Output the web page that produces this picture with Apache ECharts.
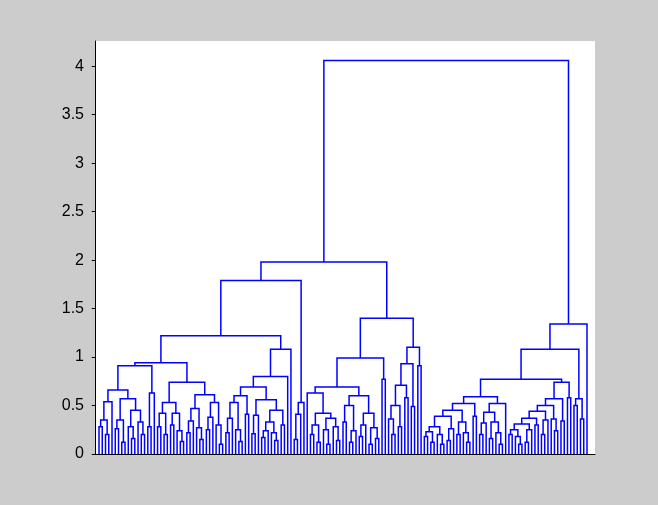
<!DOCTYPE html>
<html>
<head>
<meta charset="utf-8">
<script src="https://cdn.jsdelivr.net/npm/echarts@6/dist/echarts.min.js"></script>
<style>
html, body { margin: 0; padding: 0; background: #cccccc; }
#chart { width: 658px; height: 505px; }
</style>
</head>
<body>
<div id="chart"></div>
<script>
// 节点写法: [合并高度, 左子树, 右子树]，叶子写 0
const a1aLeft = [0.94,
  [0.91,
    [0.66,
      [0.54, [0.35, [0.28, 0, 0], [0.2, 0, 0]], 0],
      [0.57, [0.35, [0.26, 0, 0], [0.12, 0, 0]], [0.45, [0.28, 0, [0.16, 0, 0]], [0.33, 0, [0.2, 0, 0]]]]],
    [0.63, [0.28, 0, 0], 0]],
  [0.74,
    [0.53, [0.42, [0.28, 0, 0], [0.2, 0, 0]], [0.42, [0.3, 0, 0], [0.24, 0, [0.13, 0, 0]]]],
    [0.61, [0.47, [0.34, [0.22, 0, 0], 0], [0.27, 0, [0.15, 0, 0]]], [0.53, [0.38, [0.25, 0, 0], 0], [0.3, 0, [0.1, 0, 0]]]]]]
const a1aRight = [1.08,
  [0.8,
    [0.69,
      [0.6, [0.53, [0.37, [0.22, 0, 0], 0], [0.25, 0, [0.13, 0, 0]]], [0.41, 0, 0]],
      [0.56, [0.4, [0.21, 0, 0], 0], [0.45, [0.33, [0.24, [0.17, 0, 0], 0], [0.22, 0, [0.14, 0, 0]]], [0.3, 0, 0]]]],
    0],
  0]
const a1b = [0.53, [0.41, [0.15, 0, 0], 0], 0]
const a2Left = [0.99,
  [0.69,
    [0.63, 0, [0.42, [0.3, [0.2, 0, 0], [0.12, 0, 0]], [0.37, [0.25, 0, [0.1, 0, 0]], [0.28, 0, [0.14, 0, 0]]]]],
    [0.6, [0.5, [0.33, 0, 0], [0.24, [0.12, 0, 0], 0]], [0.42, [0.3, [0.18, 0, 0], 0], [0.27, [0.1, 0, 0], [0.16, 0, 0]]]]],
  [0.77, 0, 0]]
const a2Right = [1.1,
  [0.93, [0.71, [0.5, [0.36, 0, [0.2, 0, 0]], [0.28, 0, 0]], [0.58, 0, 0]], [0.49, 0, 0]],
  [0.91, 0, 0]]
const b1aLeft = [0.59,
  [0.52,
    [0.45, [0.39, [0.28, [0.23, [0.18, 0, 0], [0.12, 0, 0]], [0.2, 0, [0.1, 0, 0]]], [0.26, [0.14, 0, 0], 0]],
      [0.33, [0.2, 0, 0], [0.22, 0, [0.12, 0, 0]]]],
    [0.39, 0, 0]],
  [0.52, [0.43, [0.32, [0.2, 0, 0], 0], [0.33, [0.16, 0, 0], [0.22, 0, [0.1, 0, 0]]]], 0]]
const b1aRight = [0.74,
  [0.57,
    [0.5, [0.44, [0.37, [0.31, [0.25, [0.2, 0, 0], [0.18, 0, [0.1, 0, 0]]], [0.25, [0.12, 0, 0], 0]], [0.3, 0, 0]], [0.35, [0.2, 0, 0], 0]], [0.36, 0, [0.24, 0, 0]]],
    [0.34, 0, 0]],
  [0.58, 0, 0]]
const b1b = [0.57, [0.5, 0, 0], [0.36, 0, 0]]
// 上层合并高度
const upperHeights = { a1a: 1.22, a1: 1.79, a2: 1.40, a: 1.98, b1a: 0.77, b1: 1.08, b: 1.34, root: 4.06 }
const yTicks = [0, 0.5, 1, 1.5, 2, 2.5, 3, 3.5, 4]

const h = upperHeights
const tree = [h.root,
  [h.a, [h.a1, [h.a1a, a1aLeft, a1aRight], a1b], [h.a2, a2Left, a2Right]],
  [h.b, [h.b1, [h.b1a, b1aLeft, b1aRight], b1b], 0]]

// 叶子按顺序排在 1..n，节点 x 取两个子节点的平均
const segs = []
let leafNo = 0
function walk(node) {
  if (node === 0) {
    leafNo++
    return [leafNo, 0]
  }
  const l = walk(node[1])
  const r = walk(node[2])
  segs.push({ coords: [l, [l[0], node[0]], [r[0], node[0]], r] })
  return [(l[0] + r[0]) / 2, node[0]]
}
walk(tree)
const n = leafNo
const step = 488 / (n - 1)

const chart = echarts.init(document.getElementById('chart'))
chart.setOption({
  backgroundColor: '#cccccc',
  animation: false,
  grid: { left: 95, right: 63, top: 41, bottom: 51, show: true, backgroundColor: '#ffffff', borderWidth: 0 },
  xAxis: {
    type: 'value',
    min: 1 - 4 / step,
    max: n + 8 / step,
    axisLine: { show: true, lineStyle: { color: '#000', width: 1 } },
    axisTick: { show: false },
    axisLabel: { show: false },
    splitLine: { show: false }
  },
  yAxis: {
    type: 'value',
    min: 0,
    max: 4.26,
    axisLine: { show: true, lineStyle: { color: '#000', width: 1 } },
    axisTick: { show: true, length: 4, customValues: yTicks, lineStyle: { color: '#000' } },
    axisLabel: {
      customValues: yTicks,
      color: '#000',
      fontSize: 16,
      fontFamily: 'Liberation Sans',
      margin: 11
    },
    splitLine: { show: false }
  },
  series: [{
    type: 'lines',
    coordinateSystem: 'cartesian2d',
    polyline: true,
    silent: true,
    lineStyle: { color: '#0000ff', width: 1.5, opacity: 1 },
    data: segs
  }]
})
</script>
</body>
</html>
